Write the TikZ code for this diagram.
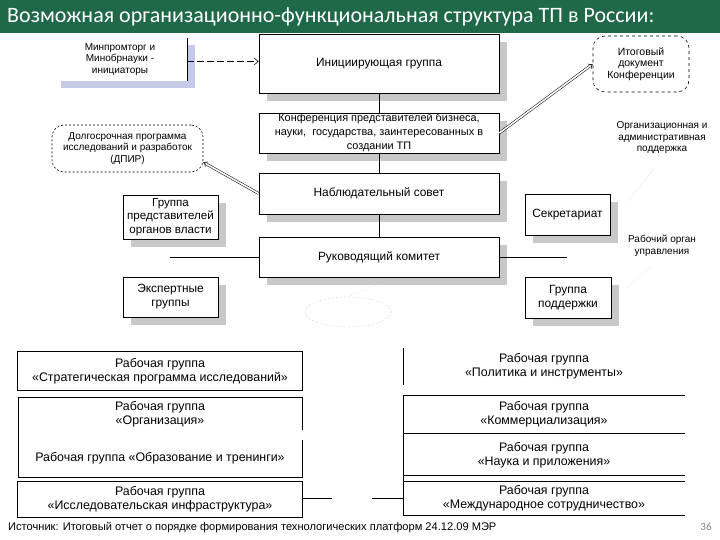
\documentclass[tikz,border=0pt]{standalone}
\usepackage{fontspec}
\setmainfont{Liberation Sans}
\newfontfamily\carlito{Carlito}
\usetikzlibrary{arrows.meta,shadows,calc,shapes.geometric}
\definecolor{titlegreen}{RGB}{31,104,72}
\definecolor{shadowgray}{RGB}{200,200,200}
\definecolor{shadowblue}{RGB}{196,202,232}
\begin{document}
\begin{tikzpicture}[x=1pt,y=-1pt,
  txt/.style={font=\fontsize{11.9}{14}\selectfont, align=center},
  wgtxt/.style={font=\fontsize{12.4}{14}\selectfont, align=center},
  smalltxt/.style={font=\fontsize{10}{11.5}\selectfont, align=center},
  box/.style={txt, draw, fill=white, line width=0.8pt, inner sep=0pt},
  shbox/.style={box, drop shadow={shadow xshift=8pt, shadow yshift=-8pt, fill=shadowgray, opacity=1}},
  wgline/.style={line width=0.8pt},
  dbl/.style={double, double distance=1.6pt, line width=0.5pt, -{Implies}},
  faint/.style={gray!35, dotted, line width=0.6pt}]
\useasboundingbox (0,0) rectangle (720,540);
\fill[white] (0,0) rectangle (720,540);
% title
\fill[titlegreen] (0,0) rectangle (720,33);
\node[anchor=west, text=white, inner sep=0pt, font=\carlito\fontsize{22}{24}\selectfont] (title) at (7,17) {Возможная организационно-функциональная структура ТП в России:};

% central column
\node[shbox, minimum width=240, minimum height=59] (init) at (379,63.5) {Инициирующая группа};
\node[shbox, minimum width=240, minimum height=40, font=\fontsize{10.9}{14}\selectfont] (conf) at (379,133) {Конференция представителей бизнеса,\\науки,\ \ государства, заинтересованных в\\создании ТП};
\node[shbox, minimum width=240, minimum height=41] (nabl) at (379,193.5) {Наблюдательный совет};
\node[shbox, minimum width=240, minimum height=40] (ruk) at (379,257) {Руководящий комитет};
\draw[line width=0.6pt] (init.south) -- (conf.north);
\draw[line width=0.6pt] (conf.south) -- (nabl.north);
\draw[line width=0.6pt] (nabl.south) -- (ruk.north);
\coordinate (rukL) at (170,257);
\coordinate (rukR) at (567,257);
\draw[line width=0.6pt] (ruk.west) -- (rukL);
\draw[line width=0.6pt] (ruk.east) -- (rukR);

% side boxes
\node[shbox, minimum width=85, minimum height=41] (sekr) at (567.5,214.5) {Секретариат};
\node[shbox, minimum width=86, minimum height=41] (podd) at (568,297.5) {Группа\\поддержки};
\node[shbox, minimum width=95, minimum height=44, font=\fontsize{11.6}{13.5}\selectfont] (gov) at (170.5,217) {Группа\\представителей\\органов власти};
\node[shbox, minimum width=95, minimum height=40] (exp) at (170.5,297) {Экспертные\\группы};

% side labels
\node[smalltxt] (orgtxt) at (662,138) {Организационная и\\административная\\поддержка};
\node[smalltxt] (worktxt) at (662,246) {Рабочий орган\\управления};
\draw[faint] (627,202) -- (655,168);
\draw[faint] (627,287) -- (653,265);

% dotted ellipse
\node[draw=gray!35, dotted, line width=0.7pt, ellipse, minimum width=86, minimum height=30, inner sep=0pt] (ell) at (348,312) {};
\draw[faint] (378,284) -- (ell.north);

% top-left initiators
\node[smalltxt, fill=white, minimum width=134, minimum height=43, inner sep=0pt,
  drop shadow={shadow xshift=8pt, shadow yshift=-7pt, fill=shadowblue, opacity=1}] (minp) at (120,59.5) {Минпромторг и\\Минобрнауки -\\инициаторы};
\draw[line width=0.7pt] (minp.north east) -- (minp.south east);
\draw[dash pattern=on 7pt off 3pt, line width=0.6pt, -{Straight Barb[length=4pt,width=7pt]}] ([yshift=-2pt]minp.east) -- ([yshift=-2pt]minp.east -| init.west);

% final document
\node[smalltxt, font=\fontsize{10.5}{11.5}\selectfont, draw, dashed, line width=0.6pt, rounded corners=12pt, minimum width=96, minimum height=56, inner sep=0pt] (itog) at (641,64) {Итоговый\\документ\\Конференции};
\draw[dbl] (conf.east) -- (itog.west);

% DPIR
\node[smalltxt, draw, dash pattern=on 2pt off 2pt, line width=0.6pt, rounded corners=12pt, minimum width=151, minimum height=47, inner sep=0pt] (dpir) at (127.5,148.5) {Долгосрочная программа\\исследований и разработок\\(ДПИР)};
\draw[dbl] (nabl.west) -- ([yshift=10pt]dpir.south east);

% working groups left
\node[wgtxt, minimum width=284, minimum height=38, inner sep=0pt] (wg1) at (160,371) {Рабочая группа\\«Стратегическая программа исследований»};
\draw[wgline] (wg1.south west) rectangle (wg1.north east);
\node[wgtxt, minimum width=284, minimum height=36, inner sep=0pt] (wg2) at (160,414) {Рабочая группа\\«Организация»};
\node[wgtxt, minimum width=284, minimum height=37, inner sep=0pt] (wg3) at (160,458) {Рабочая группа «Образование и тренинги»};
\draw[wgline] (302,430) -- (302,397) -- (18,397) -- (18,477) -- (302,477) -- (302,440);
\node[wgtxt, minimum width=284, minimum height=35, inner sep=0pt] (wg4) at (160,499.5) {Рабочая группа\\«Исследовательская инфраструктура»};
\draw[wgline] (wg4.south west) rectangle (wg4.north east);
\coordinate (gapL) at (332,498);
\coordinate (gapR) at (372,498);
\draw[line width=0.6pt] (302,498) -- (gapL);
\draw[line width=0.6pt] (gapR) -- (403,498);

% working groups right
\node[wgtxt, minimum width=282, minimum height=37, inner sep=0pt] (wr1) at (544,366.5) {Рабочая группа\\«Политика и инструменты»};
\draw[wgline] (403,348) -- (403,385);
\node[wgtxt, minimum width=282, minimum height=38, inner sep=0pt] (wr2) at (544,414) {Рабочая группа\\«Коммерциализация»};
\node[wgtxt, minimum width=282, minimum height=42, inner sep=0pt] (wr3) at (544,455) {Рабочая группа\\«Наука и приложения»};
\node[wgtxt, minimum width=282, minimum height=34, inner sep=0pt] (wr4) at (544,498) {Рабочая группа\\«Международное сотрудничество»};
\draw[wgline] (685,395) -- (403,395) -- (403,515) -- (685,515);
\draw[wgline] (403,433) -- (685,433);
\draw[wgline] (403,475) -- (685,475);
\draw[wgline] (403,481) -- (685,481);

% footer
\node[anchor=west, inner sep=0pt, font=\fontsize{11.1}{12}\selectfont] (src) at (8,528) {Источник: Итоговый отчет о порядке формирования технологических платформ 24.12.09 МЭР};
\node[inner sep=0pt, text=gray, font=\carlito\fontsize{11}{12}\selectfont] (pnum) at (706,527) {36};
\end{tikzpicture}
\end{document}
